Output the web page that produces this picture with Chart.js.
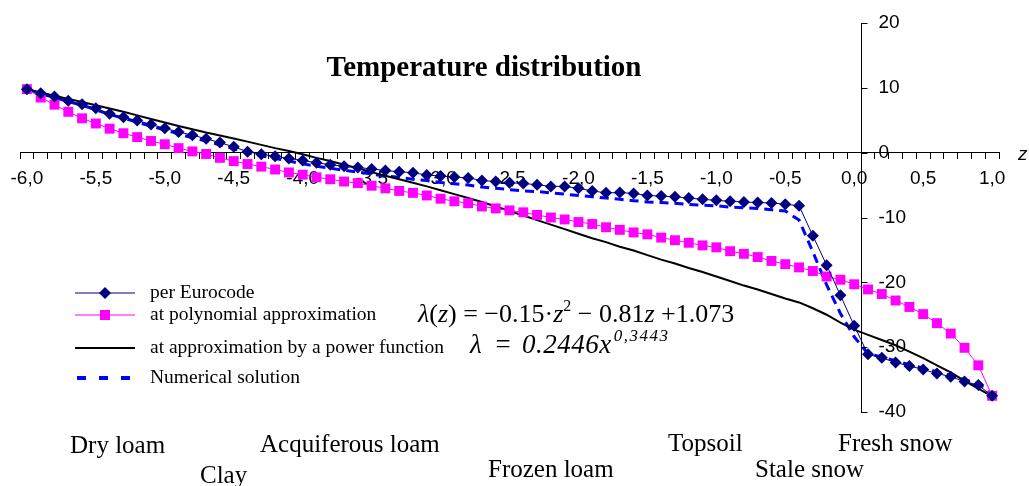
<!DOCTYPE html>
<html lang="en">
<head>
<meta charset="UTF-8">
<title>Temperature distribution</title>
<script src="https://cdn.jsdelivr.net/npm/chart.js@4.4.0/dist/chart.umd.min.js"></script>
<style>
    body { margin: 0; background: #fff; }
    .chart-box { position: relative; width: 1029px; height: 486px; }
</style>
</head>
<body>
<div class="chart-box"><canvas id="tempChart"></canvas></div>
<script>
    // depth z (category axis, step 0.1)
    const depthLabels = [
        "-6,0","-5,9","-5,8","-5,7","-5,6","-5,5","-5,4","-5,3","-5,2","-5,1",
        "-5,0","-4,9","-4,8","-4,7","-4,6","-4,5","-4,4","-4,3","-4,2","-4,1",
        "-4,0","-3,9","-3,8","-3,7","-3,6","-3,5","-3,4","-3,3","-3,2","-3,1",
        "-3,0","-2,9","-2,8","-2,7","-2,6","-2,5","-2,4","-2,3","-2,2","-2,1",
        "-2,0","-1,9","-1,8","-1,7","-1,6","-1,5","-1,4","-1,3","-1,2","-1,1",
        "-1,0","-0,9","-0,8","-0,7","-0,6","-0,5","-0,4","-0,3","-0,2","-0,1",
        "0,0","0,1","0,2","0,3","0,4","0,5","0,6","0,7","0,8","0,9",
        "1,0"
    ];
    const shownLabels = ["-6,0","-5,5","-5,0","-4,5","-4,0","-3,5","-3,0","-2,5","-2,0","-1,5","-1,0","-0,5","0,0","0,5","1,0"];
    const yTicks = [20, 10, 0, -10, -20, -30, -40];

    const eurocode = [
        9.8, 9.15, 8.65, 8.0, 7.45, 6.85, 6.0, 5.45, 4.95, 4.35,
        3.75, 3.2, 2.7, 2.15, 1.55, 0.9, 0.15, -0.25, -0.55, -0.9,
        -1.2, -1.55, -1.85, -2.1, -2.3, -2.5, -2.75, -2.95, -3.1, -3.45,
        -3.6, -3.75, -3.9, -4.3, -4.45, -4.65, -4.75, -4.95, -5.2, -5.2,
        -5.5, -5.9, -6.2, -6.15, -6.3, -6.6, -6.7, -6.8, -7.0, -7.2,
        -7.35, -7.5, -7.6, -7.7, -7.75, -7.95, -8.2, -12.8, -17.35, -22.0,
        -26.7, -31.1, -31.65, -32.35, -32.9, -33.45, -34.05, -34.55, -35.3, -35.85,
        -37.5
    ];
    const polynomial = [
        9.8, 8.5, 7.4, 6.3, 5.3, 4.5, 3.7, 3.0, 2.4, 1.8,
        1.3, 0.7, 0.2, -0.2, -0.8, -1.3, -1.75, -2.15, -2.6, -3.05,
        -3.4, -3.8, -4.1, -4.45, -4.7, -5.1, -5.5, -5.9, -6.2, -6.6,
        -7.1, -7.5, -7.8, -8.3, -8.6, -8.9, -9.2, -9.6, -10.0, -10.3,
        -10.7, -11.0, -11.5, -11.9, -12.3, -12.6, -13.1, -13.5, -13.9, -14.3,
        -14.6, -15.2, -15.6, -16.1, -16.7, -17.2, -17.7, -18.25, -19.1, -19.6,
        -20.3, -21.1, -21.8, -22.8, -23.8, -24.9, -26.3, -27.9, -30.1, -32.8,
        -37.5
    ];
    const powerFn = [
        9.8, 9.3, 8.8, 8.3, 7.8, 7.3, 6.8, 6.3, 5.75, 5.2,
        4.65, 4.1, 3.6, 3.1, 2.65, 2.2, 1.7, 1.2, 0.7, 0.25,
        -0.25, -0.8, -1.3, -1.85, -2.4, -3.0, -3.55, -4.1, -4.65, -5.2,
        -5.8, -6.4, -7.0, -7.6, -8.3, -9.0, -9.7, -10.4, -11.1, -11.8,
        -12.5, -13.2, -13.8, -14.5, -15.1, -15.8, -16.5, -17.1, -17.8, -18.4,
        -19.1, -19.8, -20.5, -21.1, -21.8, -22.5, -23.1, -24.0, -25.0, -26.2,
        -27.3, -28.1, -28.9, -29.7, -30.7, -31.7, -32.8, -33.9, -35.2, -36.4,
        -37.6
    ];
    const numerical = [
        9.8, 9.1, 8.5, 7.9, 7.3, 6.6, 5.9, 5.3, 4.7, 4.1,
        3.5, 2.9, 2.3, 1.8, 1.2, 0.6, 0.0, -0.5, -0.9, -1.3,
        -1.7, -2.1, -2.4, -2.7, -3.0, -3.3, -3.6, -3.8, -4.1, -4.3,
        -4.6, -4.8, -5.0, -5.3, -5.5, -5.7, -5.9, -6.0, -6.2, -6.4,
        -6.6, -6.8, -7.0, -7.2, -7.4, -7.6, -7.7, -7.8, -8.0, -8.1,
        -8.2, -8.4, -8.5, -8.6, -8.8, -9.0, -10.4, -15.3, -20.4, -24.8,
        -28.4, -31.0, -31.5, -32.1, -32.7, -33.2, -33.8, -34.4, -35.0, -35.7,
        -37.3
    ];

    const seriesNames = ["per Eurocode", "at polynomial approximation", "at approximation by a power function", "Numerical solution"];
    const soilLabels = ["Dry loam", "Clay", "Acquiferous loam", "Frozen loam", "Topsoil", "Stale snow", "Fresh snow"];

    const NAVY = "#000080";
    const MAGENTA = "#ff00ff";
    const BLUE = "#0000ff";
    const SERIF = '"Liberation Serif", "Times New Roman", serif';
    const SANS = '"Liberation Sans", Arial, sans-serif';

    function drawRuns(ctx, runs, x, y) {
        let cx = x;
        runs.forEach(r => {
            ctx.font = r.font;
            ctx.letterSpacing = r.ls || "0px";
            ctx.fillText(r.t, cx, y + (r.dy || 0));
            cx += ctx.measureText(r.t).width + (r.gap || 0);
        });
        ctx.letterSpacing = "0px";
    }

    // texts, legend, y ticks and labels drawn on top of the chart
    const overlayPlugin = {
        id: "overlay",
        afterDraw(chart) {
            const ctx = chart.ctx;
            const xs = chart.scales.x, ys = chart.scales.y;
            const axisX = Math.round(xs.getPixelForValue(60.5)) + 0.5;
            ctx.save();
            ctx.fillStyle = "#000";

            // y tick marks point right, labels right of the axis
            ctx.strokeStyle = "#000";
            ctx.lineWidth = 1;
            yTicks.forEach(v => {
                const py = Math.round(ys.getPixelForValue(v)) + 0.5;
                ctx.beginPath();
                ctx.moveTo(axisX, py);
                ctx.lineTo(axisX + 6, py);
                ctx.stroke();
            });
            ctx.font = "19px " + SANS;
            ctx.textAlign = "left";
            ctx.textBaseline = "middle";
            yTicks.forEach(v => ctx.fillText(String(v), axisX + 17, ys.getPixelForValue(v)));
            ctx.font = "italic 19px " + SANS;
            ctx.fillText("z", 1018, ys.getPixelForValue(0) + 2);

            // title
            ctx.textAlign = "center";
            ctx.font = "bold 29px " + SERIF;
            ctx.fillText("Temperature distribution", 484, 69);

            // legend
            const rowsY = [293, 315, 348, 378];
            ctx.textAlign = "left";
            ctx.font = "19.5px " + SERIF;
            rowsY.forEach((ry, i) => {
                ctx.save();
                ctx.beginPath();
                if (i === 0) { ctx.strokeStyle = NAVY; ctx.lineWidth = 1; }
                if (i === 1) { ctx.strokeStyle = MAGENTA; ctx.lineWidth = 1; }
                if (i === 2) { ctx.strokeStyle = "#000"; ctx.lineWidth = 2; }
                if (i === 3) { ctx.strokeStyle = BLUE; ctx.lineWidth = 4; ctx.setLineDash([9, 13]); }
                ctx.moveTo(i === 3 ? 77 : 75, ry);
                ctx.lineTo(135, ry);
                ctx.stroke();
                ctx.setLineDash([]);
                if (i === 0) {
                    ctx.fillStyle = NAVY;
                    ctx.beginPath();
                    ctx.moveTo(105, ry - 6); ctx.lineTo(111, ry); ctx.lineTo(105, ry + 6); ctx.lineTo(99, ry);
                    ctx.closePath(); ctx.fill();
                }
                if (i === 1) {
                    ctx.fillStyle = MAGENTA;
                    ctx.fillRect(100, ry - 5, 10, 10);
                }
                ctx.restore();
                ctx.fillText(seriesNames[i], 150, ry);
            });

            // formulas
            ctx.textBaseline = "alphabetic";
            const f = "26px " + SERIF, fi = "italic 26px " + SERIF, fs = "16px " + SERIF;
            drawRuns(ctx, [
                {t: "\u03bb", font: fi}, {t: "(", font: f}, {t: "z", font: fi},
                {t: ") = \u22120.15\u00b7", font: f}, {t: "z", font: fi}, {t: "2", font: fs, dy: -11},
                {t: " \u2212 0.81", font: f}, {t: "z", font: fi}, {t: " +1.073", font: f}
            ], 418, 322);
            drawRuns(ctx, [
                {t: "\u03bb", font: "italic 27px " + SERIF, gap: 12},
                {t: "=", font: "italic 27px " + SERIF, gap: 10},
                {t: "0.2446x", font: "italic 27px " + SERIF, ls: "0.5px", gap: 2},
                {t: "0,3443", font: "italic 17px " + SERIF, ls: "1.5px", dy: -12}
            ], 470, 353);

            // soil layers
            ctx.font = "25px " + SERIF;
            ctx.textBaseline = "middle";
            const soilPos = [[70, 446], [200, 476], [260, 445], [488, 470], [668, 444], [755, 470], [838, 444]];
            soilLabels.forEach((s, i) => ctx.fillText(s, soilPos[i][0], soilPos[i][1]));
            ctx.restore();
        }
    };

    new Chart(document.getElementById("tempChart"), {
        type: "line",
        data: {
            labels: depthLabels,
            datasets: [
                {
                    label: seriesNames[0], data: eurocode,
                    borderColor: NAVY, borderWidth: 1, backgroundColor: NAVY,
                    pointStyle: "rectRot", pointRadius: 6, pointBorderWidth: 0
                },
                {
                    label: seriesNames[1], data: polynomial,
                    borderColor: MAGENTA, borderWidth: 1, backgroundColor: MAGENTA,
                    pointStyle: "rect", pointRadius: 7, pointBorderWidth: 0
                },
                {
                    label: seriesNames[2], data: powerFn,
                    borderColor: "#000", borderWidth: 2, pointRadius: 0
                },
                {
                    label: seriesNames[3], data: numerical,
                    borderColor: BLUE, borderWidth: 3, borderDash: [9, 6], pointRadius: 0
                }
            ]
        },
        options: {
            responsive: true,
            maintainAspectRatio: false,
            animation: false,
            layout: { padding: { left: 20, right: 30, top: 23, bottom: 74 } },
            plugins: { legend: { display: false }, tooltip: { enabled: false } },
            scales: {
                x: {
                    type: "category",
                    offset: true,
                    position: { y: 0 },
                    grid: { drawOnChartArea: false, offset: true, tickLength: 6, color: "#000" },
                    border: { display: true, color: "#000", width: 1 },
                    ticks: {
                        autoSkip: false, maxRotation: 0, minRotation: 0, padding: 9,
                        color: "#000", font: { family: SANS, size: 19 },
                        callback: function (val) {
                            const lab = this.getLabelForValue(val);
                            return shownLabels.includes(lab) ? lab : "";
                        }
                    }
                },
                y: {
                    type: "linear",
                    min: -40, max: 20,
                    position: { x: 60.5 },
                    grid: { drawOnChartArea: false, drawTicks: false },
                    border: { display: true, color: "#000", width: 1 },
                    ticks: { stepSize: 10, display: false }
                }
            }
        },
        plugins: [overlayPlugin]
    });
</script>
</body>
</html>
